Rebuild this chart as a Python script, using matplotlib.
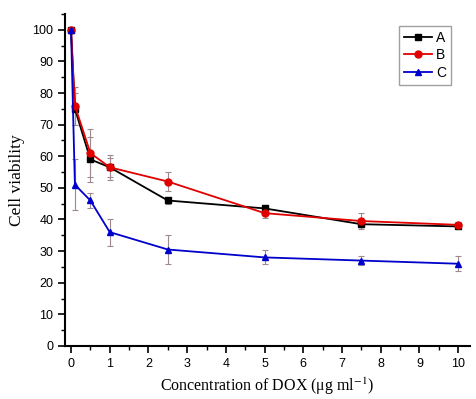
import matplotlib
matplotlib.use("Agg")
import matplotlib.pyplot as plt
from matplotlib.ticker import MultipleLocator

plt.rcParams["mathtext.fontset"] = "stix"

x = [0, 0.1, 0.5, 1, 2.5, 5, 7.5, 10]
A = [100, 75, 59, 56.5, 46, 43.5, 38.5, 37.8]
B = [100, 76, 61, 56.5, 52, 42, 39.5, 38.3]
C = [100, 51, 46, 36, 30.5, 28, 27, 26]
A_err = [0, 5, 7, 3, 1, 1, 1, 0.8]
B_err = [0, 6, 7.5, 4, 3, 1.5, 2.5, 1]
C_err = [0, 8, 2.5, 4.3, 4.5, 2.2, 1.5, 2.3]

fig = plt.figure(figsize=(4.76, 3.99), dpi=100)
ax = fig.add_axes([0.137, 0.133, 0.85, 0.832])

ecol = "#a08890"
series = [("A", A, A_err, "black", "s"), ("B", B, B_err, "#e00000", "o"), ("C", C, C_err, "#0000cc", "^")]
for name, y, e, c, m in series:
    ax.errorbar(x, y, yerr=e, color=c, marker=m, markersize=5, linewidth=1.3,
                ecolor=ecol, elinewidth=0.8, capsize=2.5, capthick=0.8, label=name)

ax.set_xlim(-0.15, 10.3)
ax.set_ylim(0, 105)
ax.xaxis.set_major_locator(MultipleLocator(1))
ax.xaxis.set_minor_locator(MultipleLocator(0.5))
ax.yaxis.set_major_locator(MultipleLocator(10))
ax.yaxis.set_minor_locator(MultipleLocator(5))
ax.spines["top"].set_visible(False)
ax.spines["right"].set_visible(False)
ax.spines["left"].set_linewidth(1.5)
ax.spines["bottom"].set_linewidth(1.5)
ax.tick_params(which="major", direction="out", length=5, width=1.2, labelsize=9)
ax.tick_params(which="minor", direction="out", length=3, width=1.0)
for lab in ax.get_xticklabels() + ax.get_yticklabels():
    lab.set_fontfamily("Liberation Sans")

ax.set_xlabel("Concentration of DOX (\u03bcg ml$^{-1}$)", fontfamily="Liberation Serif", fontsize=11.5, labelpad=4)
ax.set_ylabel("Cell viability", fontfamily="Liberation Serif", fontsize=12.5, labelpad=5)

handles, labels = ax.get_legend_handles_labels()
handles = [h[0] for h in handles]
leg = ax.legend(handles, labels, loc="upper right", bbox_to_anchor=(0.97, 0.985),
                prop={"family": "Liberation Sans", "size": 10}, frameon=True, fancybox=False,
                edgecolor="#888888", handlelength=2.0, borderpad=0.35, labelspacing=0.25,
                handletextpad=0.3)
leg.get_frame().set_linewidth(1.0)

fig.savefig("out.png", dpi=100)
